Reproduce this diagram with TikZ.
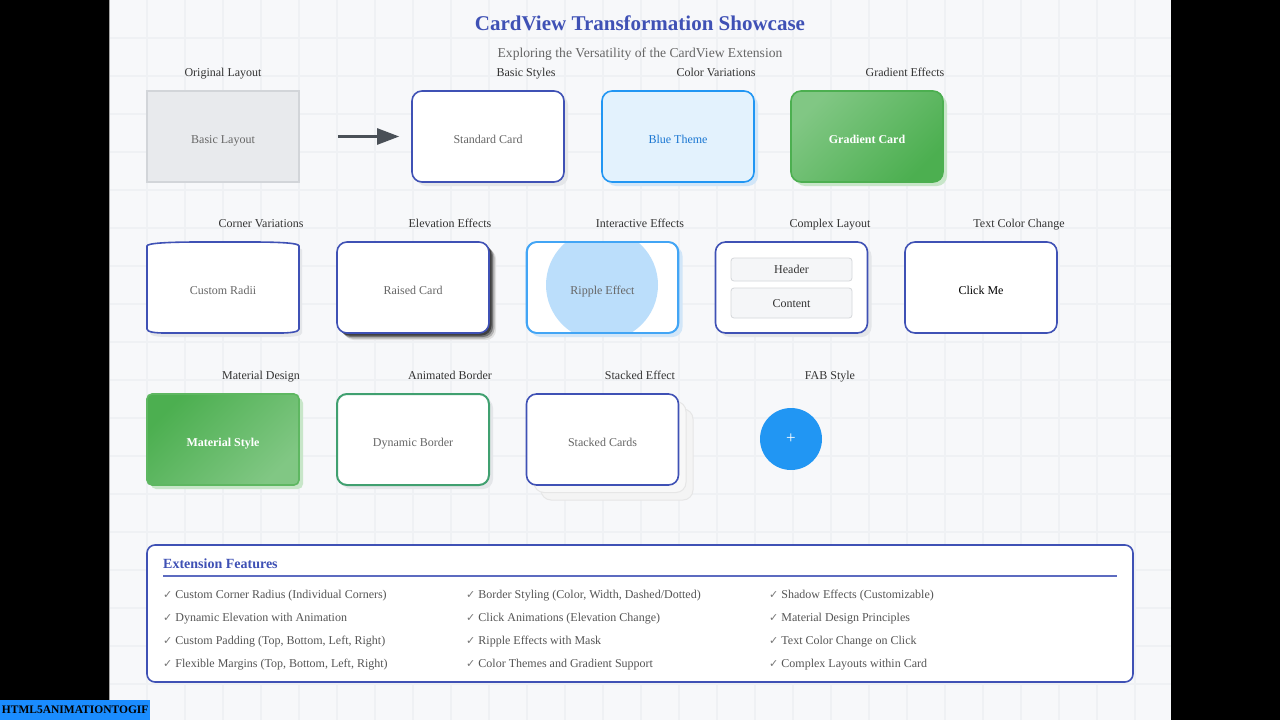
\documentclass[tikz,border=0pt]{standalone}
\usepackage{fontspec}
\setmainfont{Liberation Serif}
\newfontfamily\checkf{DejaVu Sans}
\usetikzlibrary{arrows.meta}
\definecolor{pagebg}{HTML}{F7F8FA}
\definecolor{gridc}{HTML}{EFF1F4}
\definecolor{indigo}{HTML}{3F51B5}
\definecolor{indigol}{HTML}{5C6BC0}
\definecolor{labelc}{HTML}{333333}
\definecolor{txtgrey}{HTML}{666666}
\definecolor{itemc}{HTML}{555555}
\definecolor{basicfill}{HTML}{E8EAED}
\definecolor{basicdraw}{HTML}{D2D5D9}
\definecolor{arrowc}{HTML}{4A5057}
\definecolor{bluefill}{HTML}{E3F2FD}
\definecolor{bluedraw}{HTML}{2196F3}
\definecolor{bluetxt}{HTML}{1976D2}
\definecolor{blueshadow}{HTML}{D2E6F8}
\definecolor{greenA}{HTML}{81C784}
\definecolor{greenB}{HTML}{4CAF50}
\definecolor{greenshadow}{HTML}{C8E6C9}
\definecolor{greyshadow}{HTML}{E4E6E9}
\definecolor{ripb}{HTML}{42A5F5}
\definecolor{ripc}{HTML}{BBDEFB}
\definecolor{dynb}{HTML}{40A070}
\definecolor{innerfill}{HTML}{F5F6F8}
\definecolor{innerdraw}{HTML}{D5D7DA}
\definecolor{stackfill}{HTML}{F4F4F4}
\definecolor{stackdraw}{HTML}{E6E6E6}
\definecolor{badgeblue}{HTML}{1A8CFF}
\newcommand\myfs[1]{\fontsize{#1}{#1}\selectfont}
\tikzset{
  card/.style={rectangle, minimum width=152pt, minimum height=91pt, inner sep=0pt,
    rounded corners=10pt, line width=1.6pt, font=\myfs{12}, text=txtgrey,
    text height=14.5pt, text depth=0pt},
  cardlabel/.style={anchor=base, font=\myfs{12}, text=labelc, inner sep=0pt},
  shadowed/.style={preaction={fill=#1, transform canvas={shift={(4pt,-4pt)}}}},
  inner box/.style={rectangle, minimum width=121pt, inner sep=0pt, rounded corners=3pt,
    fill=innerfill, draw=innerdraw, line width=0.8pt, font=\myfs{12}, text=labelc,
    text height=8.5pt, text depth=0pt},
  feat/.style={anchor=base west, font=\myfs{12}, text=itemc, inner sep=0pt},
}
\newcommand\chk{{\checkf\myfs{11}\color{itemc!80!white}✓}\ }
\begin{document}
\begin{tikzpicture}[x=1pt,y=-1pt]
\useasboundingbox (0,0) rectangle (1280,720);
\fill[pagebg] (109,0) rectangle (1171,720);
\foreach \gx in {147,185,...,1171} \draw[gridc, line width=2pt] (\gx,0) -- (\gx,720);
\foreach \gy in {38,76,...,720} \draw[gridc, line width=2pt] (109,\gy) -- (1171,\gy);
\fill[black] (0,0) rectangle (109,720);
\fill[black] (1171,0) rectangle (1280,720);
\draw[gray!70, line width=1pt] (109.5,0) -- (109.5,720);

% titles
\node[font=\myfs{21}\bfseries, text=indigo, anchor=base, inner sep=0pt] (title) at (640,30.5) {CardView Transformation Showcase};
\node[font=\myfs{13.6}, text=txtgrey, anchor=base, inner sep=0pt] (subtitle) at (640,57) {Exploring the Versatility of the CardView Extension};

% row 1 labels
\node[cardlabel] (l1) at (223,76) {Original Layout};
\node[cardlabel] (l2) at (526,76) {Basic Styles};
\node[cardlabel] (l3) at (716,76) {Color Variations};
\node[cardlabel] (l4) at (905,76) {Gradient Effects};

% row 1 cards
\node[card, rounded corners=0pt, fill=basicfill, draw=basicdraw, line width=1.5pt] (basic) at (223,136.5) {Basic Layout};
\node[card, fill=white, draw=indigo, shadowed=greyshadow] (standard) at (488,136.5) {Standard Card};
\node[card, fill=bluefill, draw=bluedraw, text=bluetxt, shadowed=blueshadow] (blue) at (678,136.5) {Blue Theme};
\node[card, top color=greenA, bottom color=greenB, shading angle=45, draw=greenB, text=white, shadowed=greenshadow, font=\myfs{12}\bfseries] (gradient) at (867,136.5) {Gradient Card};
\draw[arrowc, line width=2.5pt, -{Triangle[length=22pt,width=16pt]}, shorten <=38pt, shorten >=12pt] (basic) -- (standard);

% row 2 labels
\node[cardlabel] (l5) at (261,227) {Corner Variations};
\node[cardlabel] (l6) at (450,227) {Elevation Effects};
\node[cardlabel] (l7) at (640,227) {Interactive Effects};
\node[cardlabel] (l8) at (830,227) {Complex Layout};
\node[cardlabel] (l9) at (1019,227) {Text Color Change};

% custom radii
\fill[greyshadow] (150,250) .. controls (150,247) and (173,246) .. (203,246) -- (253,246) .. controls (283,246) and (302,247) .. (302,250) -- (302,333) .. controls (302,336) and (293,337) .. (283,337) -- (168,337) .. controls (158,337) and (150,336) .. (150,333) -- cycle;
\draw[indigo, line width=1.6pt, fill=white] (147,246) .. controls (147,243) and (170,242) .. (200,242) -- (250,242) .. controls (280,242) and (299,243) .. (299,246) -- (299,329) .. controls (299,332) and (290,333) .. (280,333) -- (165,333) .. controls (155,333) and (147,332) .. (147,329) -- cycle;
\node[card, draw=none] (radii) at (223,287.5) {Custom Radii};

% raised
\node[card, fill=white, draw=indigo,
  preaction={fill=black!12, transform canvas={shift={(7pt,-7pt)}}},
  preaction={fill=black!30, transform canvas={shift={(5.5pt,-5.5pt)}}},
  preaction={fill=black!55, transform canvas={shift={(4pt,-4pt)}}},
  preaction={fill=black!75, transform canvas={shift={(2.5pt,-2.5pt)}}}] (raised) at (413,287.5) {Raised Card};

% ripple
\node[card, fill=white, draw=ripb, shadowed=blueshadow] (ripple) at (602.5,287.5) {};
\begin{scope}
\clip[rounded corners=10pt] (527,242) rectangle (678,333);
\fill[ripc] (602,285) circle [radius=56pt];
\end{scope}
\draw[ripb, line width=1.6pt, rounded corners=10pt] (527,242) rectangle (678,333);
\node[font=\myfs{12}, text=txtgrey, text height=14.5pt, text depth=0pt, inner sep=0pt] (ripplet) at (ripple) {Ripple Effect};

% complex
\node[card, fill=white, draw=indigo, shadowed=greyshadow] (complex) at (791.5,287.5) {};
\node[inner box, minimum height=23pt] (header) at (791.5,269.5) {Header};
\node[inner box, minimum height=30pt] (content) at (791.5,303) {Content};

% click me
\node[card, fill=white, draw=indigo, text=black] (click) at (981,287.5) {Click Me};

% row 3 labels
\node[cardlabel] (l10) at (261,379) {Material Design};
\node[cardlabel] (l11) at (450,379) {Animated Border};
\node[cardlabel] (l12) at (640,379) {Stacked Effect};
\node[cardlabel] (l13) at (830,379) {FAB Style};

% row 3 cards
\node[card, rounded corners=5pt, top color=greenB, bottom color=greenA, shading angle=45, draw=greenB!90!white, text=white, shadowed=greenshadow, font=\myfs{12}\bfseries] (material) at (223,439.5) {Material Style};
\node[card, fill=white, draw=dynb, line width=2pt, shadowed=greyshadow] (dynamic) at (413,439.5) {Dynamic Border};
\node[card, fill=stackfill, draw=stackdraw, line width=1pt] (stack2) at (617,454.5) {};
\node[card, fill=stackfill!60!white, draw=stackdraw, line width=1pt] (stack1) at (610,447) {};
\node[card, fill=white, draw=indigo] (stacked) at (602.5,439.5) {Stacked Cards};
\node[circle, minimum size=62pt, inner sep=0pt, fill=bluedraw, text=white, font=\myfs{17}] (fab) at (791,439) {+};

% features
\node[rectangle, draw=indigo, line width=1.6pt, fill=white, rounded corners=8pt, minimum width=986pt, minimum height=137pt, inner sep=0pt] (features) at (640,613.5) {};
\node[anchor=base west, font=\myfs{14}\bfseries, text=indigo, inner sep=0pt] (ftitle) at (163,568) {Extension Features};
\draw[indigol, line width=2pt] (163,576) -- (1117,576);
\node[feat] (f11) at (163,598.5) {\chk Custom Corner Radius (Individual Corners)};
\node[feat] (f12) at (163,621) {\chk Dynamic Elevation with Animation};
\node[feat] (f13) at (163,644) {\chk Custom Padding (Top, Bottom, Left, Right)};
\node[feat] (f14) at (163,667) {\chk Flexible Margins (Top, Bottom, Left, Right)};
\node[feat] (f21) at (466,598.5) {\chk Border Styling (Color, Width, Dashed/Dotted)};
\node[feat] (f22) at (466,621) {\chk Click Animations (Elevation Change)};
\node[feat] (f23) at (466,644) {\chk Ripple Effects with Mask};
\node[feat] (f24) at (466,667) {\chk Color Themes and Gradient Support};
\node[feat] (f31) at (769,598.5) {\chk Shadow Effects (Customizable)};
\node[feat] (f32) at (769,621) {\chk Material Design Principles};
\node[feat] (f33) at (769,644) {\chk Text Color Change on Click};
\node[feat] (f34) at (769,667) {\chk Complex Layouts within Card};

% badge
\node[rectangle, fill=badgeblue, minimum width=150pt, minimum height=20pt, inner sep=0pt, anchor=south west, font=\myfs{11.5}\bfseries, text=black] (badge) at (0,720) {HTML5ANIMATIONTOGIF};
\end{tikzpicture}
\end{document}
